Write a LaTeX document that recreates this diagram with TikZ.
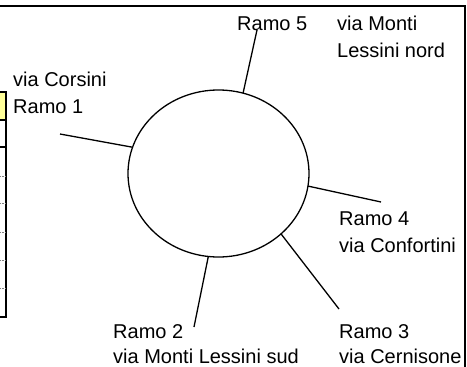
\documentclass[tikz,border=0pt]{standalone}
\usepackage{fontspec}
\setmainfont{Liberation Sans}
\usetikzlibrary{shapes.geometric}
\definecolor{cellyellow}{RGB}{255,255,153}
\begin{document}
\begin{tikzpicture}[x=1pt,y=-1pt,
  lbl/.style={anchor=base west, inner sep=0pt, font=\fontsize{20}{27}\selectfont},
  spoke/.style={line width=1.3pt},
  frame/.style={line width=1.8pt},
  gridline/.style={line width=1.3pt},
  tick/.style={gray, line width=1pt, dash pattern=on 1pt off 0.6pt}]
\useasboundingbox (0,0) rectangle (467,367);

% sheet frame (top and right edges)
\draw[frame] (0,6) -- (465.3,6) -- (465.3,367);

% edge of the neighbouring table on the left
\fill[cellyellow] (0,92) rectangle (6,120);
\draw[gridline] (0,92) -- (6,92);
\draw[gridline] (0,120) -- (6,120);
\draw[gridline] (0,147) -- (6,147);
\draw[gridline] (0,317) -- (6,317);
\draw[frame] (6,91) -- (6,318);
\foreach \yy in {176,203,232,260,288}
  \draw[tick] (0,\yy) -- (5,\yy);

% roundabout
\node[ellipse, draw, line width=1.3pt, inner sep=0pt, outer sep=0pt,
      minimum width=181pt, minimum height=167pt] (c) at (218.5,173.5) {};

% free ends of the branches
\coordinate (r1) at (60,134);
\coordinate (r2) at (194,327);
\coordinate (r3) at (339,309);
\coordinate (r4) at (381,202);
\coordinate (r5) at (257,30);

\draw[spoke] (c.163.4) -- (r1);
\draw[spoke] (c.-97) -- (r2);
\draw[spoke] (c.-44.1) -- (r3);
\draw[spoke] (c.-8.6) -- (r4);
\draw[spoke] (c.73.1) -- (r5);

% branch labels
\node[lbl] (t5a) at (237,30) {Ramo 5};
\node[lbl] (t5b) at (337,30) {via Monti};
\node[lbl] (t5c) at (337,57) {Lessini nord};

\node[lbl] (t1a) at (13,86) {via Corsini};
\node[lbl] (t1b) at (13,113) {Ramo 1};

\node[lbl] (t4a) at (339,225) {Ramo 4};
\node[lbl] (t4b) at (339,252) {via Confortini};

\node[lbl] (t3a) at (339,338) {Ramo 3};
\node[lbl] (t3b) at (339,363) {via Cernisone};

\node[lbl] (t2a) at (113,338) {Ramo 2};
\node[lbl] (t2b) at (113,363) {via Monti Lessini sud};
\end{tikzpicture}
\end{document}
